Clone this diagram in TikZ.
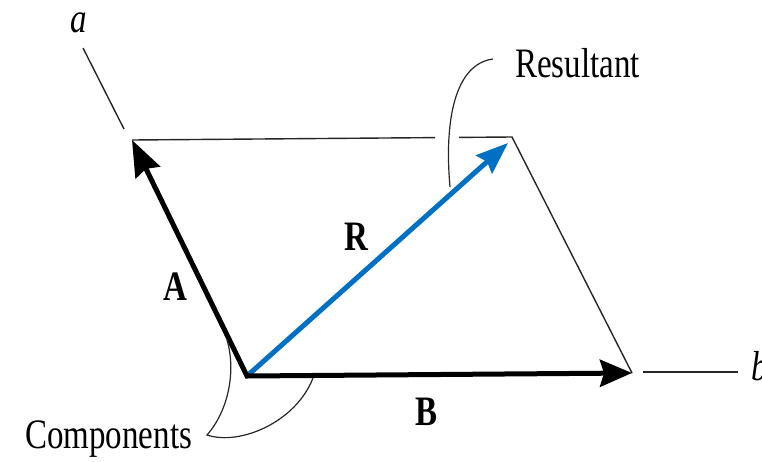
\documentclass[tikz,border=0pt]{standalone}
\usepackage{fontspec}
\setmainfont{Liberation Serif}
\usetikzlibrary{arrows.meta}
\definecolor{resblue}{RGB}{0,112,196}
\newcommand{\tallt}[1]{\scalebox{1}[1.27]{#1}}
\tikzset{
  vec/.style={line width=5pt, line join=miter},
  thinline/.style={line width=1.4pt, black!85},
  leader/.style={line width=1.2pt, black!85},
  lbl/.style={inner sep=0pt, font=\fontsize{33}{40}\selectfont},
  blbl/.style={inner sep=0pt, font=\fontsize{33}{40}\selectfont\bfseries},
}
\begin{document}
\begin{tikzpicture}[x=1pt,y=-1pt]
\useasboundingbox (0,0) rectangle (762,461);
% points
\coordinate (O) at (247,376);
\coordinate (P) at (132,140);
\coordinate (Q) at (632,373);
\coordinate (C) at (512,137);
\coordinate (Rt) at (508,143);
\coordinate (g1) at (435,137.6);
\coordinate (g2) at (459,137.4);
\coordinate (a1) at (83,48);
\coordinate (a2) at (124,129);
\coordinate (b1) at (643,372);
\coordinate (b2) at (738,372);
% parallelogram thin edges
\draw[thinline] (P) -- (g1);
\draw[thinline] (g2) -- (C) -- (Q);
% axes
\draw[thinline] (a1) -- (a2);
\draw[thinline] (b1) -- (b2);
% resultant
\draw[vec, resblue, -{Stealth[length=32pt,width=24pt,inset=4pt]}] (O) -- (Rt);
% components
\draw[vec, {Stealth[length=36pt,width=27pt,inset=4pt]}-{Stealth[length=32pt,width=27pt,inset=4pt]}] (P) -- (O) -- (Q);
% labels
\node[lbl, anchor=base west] (al) at (70,32) {\tallt{\itshape a}};
\node[lbl, anchor=base west] (bl) at (751,380) {\tallt{\itshape b}};
\node[blbl, anchor=base] (Al) at (175,300) {\tallt{A}};
\node[blbl, anchor=base] (Bl) at (426,425) {\tallt{B}};
\node[blbl, anchor=base] (Rl) at (356,250) {\tallt{R}};
\node[lbl, anchor=base west] (res) at (515,77) {\tallt{Resultant}};
\node[lbl, anchor=base west] (comp) at (25,448) {\tallt{Components}};
% leaders
\coordinate (r1) at (493,59);
\coordinate (r2) at (450,187);
\draw[leader] (r1) .. controls (455,64) and (444,120) .. (r2);
\coordinate (c1) at (227,340);
\coordinate (cc) at (207,435);
\coordinate (c2) at (313,378);
\draw[leader] (c1) .. controls (236,370) and (229,410) .. (cc)
  .. controls (240,446) and (296,422) .. (c2);
\end{tikzpicture}
\end{document}
